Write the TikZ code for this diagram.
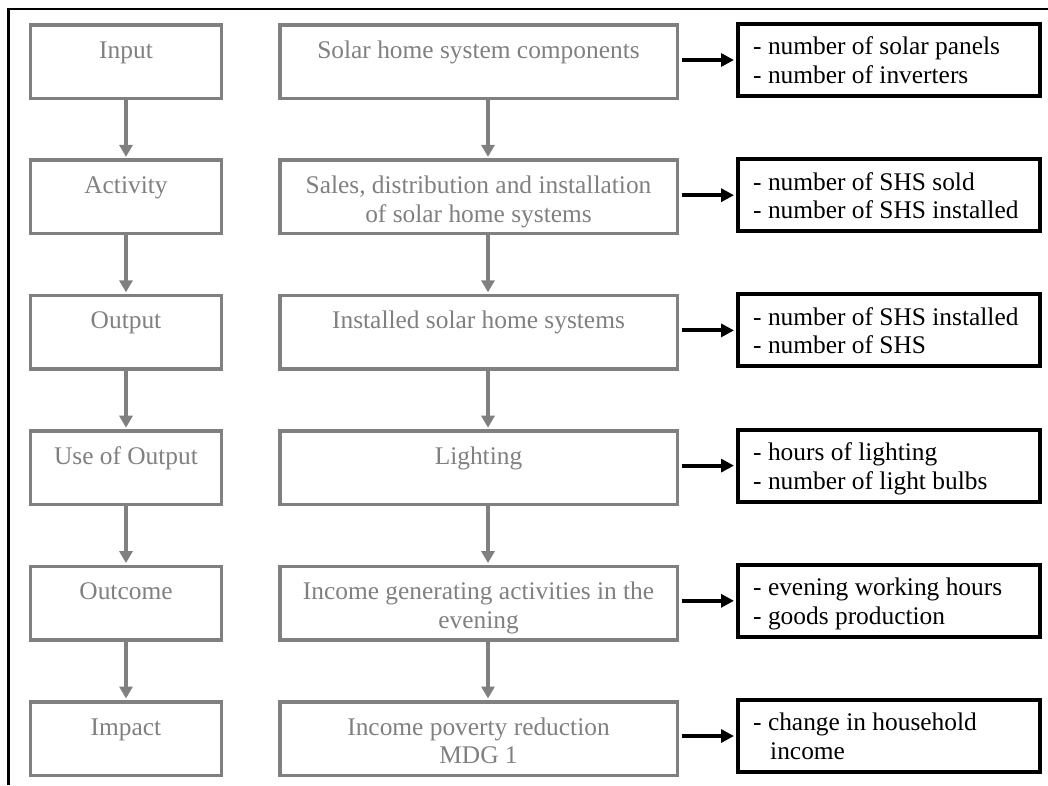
\documentclass[tikz,border=0pt]{standalone}
\usepackage{fontspec}
\setmainfont{Liberation Serif}
\usetikzlibrary{arrows.meta}
\definecolor{boxgray}{RGB}{128,128,128}
\begin{document}
\begin{tikzpicture}[x=1pt,y=-1pt,
  gbox/.style={draw=boxgray,line width=3.5pt,minimum height=73.5pt,inner sep=0pt},
  lbox/.style={gbox,minimum width=191pt},
  mbox/.style={gbox,minimum width=397.5pt},
  gtext/.style={anchor=north,inner sep=0pt,text=boxgray,align=center,font=\fontsize{25.4}{28.5}\selectfont},
  rbox/.style={draw=black,line width=4pt,minimum height=72pt,minimum width=302pt,inner sep=0pt},
  rtext/.style={anchor=west,inner sep=0pt,align=left,font=\fontsize{25.4}{28.5}\selectfont},
  garrow/.style={draw=boxgray,line width=3.5pt,-{Triangle[length=12pt,width=13pt]},shorten >=1.5pt},
  barrow/.style={draw=black,line width=4pt,-{Triangle[length=13pt,width=13pt]},shorten <=2.5pt,shorten >=2pt}
]
\useasboundingbox (0,0) rectangle (1048,785);
\draw[line width=2.5pt] (8.5,785) -- (8.5,9) -- (1048,9);

% left column
\node[lbox] (a1) at (126,61.5) {};
\node[lbox] (a2) at (126,196.9) {};
\node[lbox] (a3) at (126,332.3) {};
\node[lbox] (a4) at (126,467.7) {};
\node[lbox] (a5) at (126,603.1) {};
\node[lbox] (a6) at (126,738.5) {};
\node[gtext] (ta1) at ([yshift=-15pt]a1.north) {\strut Input};
\node[gtext] (ta2) at ([yshift=-15pt]a2.north) {\strut Activity};
\node[gtext] (ta3) at ([yshift=-15pt]a3.north) {\strut Output};
\node[gtext] (ta4) at ([yshift=-15pt]a4.north) {\strut Use of Output};
\node[gtext] (ta5) at ([yshift=-15pt]a5.north) {\strut Outcome};
\node[gtext] (ta6) at ([yshift=-15pt]a6.north) {\strut Impact};

% middle column
\node[mbox] (b1) at (478.5,61.5) {};
\node[mbox] (b2) at (478.5,196.9) {};
\node[mbox] (b3) at (478.5,332.3) {};
\node[mbox] (b4) at (478.5,467.7) {};
\node[mbox] (b5) at (478.5,603.1) {};
\node[mbox] (b6) at (478.5,738.5) {};
\node[gtext] (tb1) at ([yshift=-15pt]b1.north) {\strut Solar home system components};
\node[gtext] (tb2) at ([yshift=-15pt]b2.north) {\strut Sales, distribution and installation\\of solar home systems};
\node[gtext] (tb3) at ([yshift=-15pt]b3.north) {\strut Installed solar home systems};
\node[gtext] (tb4) at ([yshift=-15pt]b4.north) {\strut Lighting};
\node[gtext] (tb5) at ([yshift=-15pt]b5.north) {\strut Income generating activities in the\\evening};
\node[gtext] (tb6) at ([yshift=-15pt]b6.north) {\strut Income poverty reduction\\MDG 1};

% right column
\node[rbox] (r1) at (889,60) {};
\node[rbox] (r2) at (889,195.2) {};
\node[rbox] (r3) at (889,330.4) {};
\node[rbox] (r4) at (889,465.6) {};
\node[rbox] (r5) at (889,600.8) {};
\node[rbox] (r6) at (889,736) {};
\node[rtext] (tr1) at ([xshift=17pt,yshift=-3.5pt]r1.west) {\strut - number of solar panels\\\strut - number of inverters};
\node[rtext] (tr2) at ([xshift=17pt,yshift=-3.5pt]r2.west) {\strut - number of SHS sold\\\strut - number of SHS installed};
\node[rtext] (tr3) at ([xshift=17pt,yshift=-3.5pt]r3.west) {\strut - number of SHS installed\\\strut - number of SHS};
\node[rtext] (tr4) at ([xshift=17pt,yshift=-3.5pt]r4.west) {\strut - hours of lighting\\\strut - number of light bulbs};
\node[rtext] (tr5) at ([xshift=17pt,yshift=-3.5pt]r5.west) {\strut - evening working hours\\\strut - goods production};
\node[rtext] (tr6) at ([xshift=17pt,yshift=-3.5pt]r6.west) {\strut - change in household\\\strut\hspace*{17pt}income};

% vertical arrows
\draw[garrow] (a1.south) -- (a2.north);
\draw[garrow] (a2.south) -- (a3.north);
\draw[garrow] (a3.south) -- (a4.north);
\draw[garrow] (a4.south) -- (a5.north);
\draw[garrow] (a5.south) -- (a6.north);
\draw[garrow] ([xshift=9.5pt]b1.south) -- ([xshift=9.5pt]b2.north);
\draw[garrow] ([xshift=9.5pt]b2.south) -- ([xshift=9.5pt]b3.north);
\draw[garrow] ([xshift=9.5pt]b3.south) -- ([xshift=9.5pt]b4.north);
\draw[garrow] ([xshift=9.5pt]b4.south) -- ([xshift=9.5pt]b5.north);
\draw[garrow] ([xshift=9.5pt]b5.south) -- ([xshift=9.5pt]b6.north);

% horizontal arrows
\draw[barrow] (b1.east |- r1.west) -- (r1.west);
\draw[barrow] (b2.east |- r2.west) -- (r2.west);
\draw[barrow] (b3.east |- r3.west) -- (r3.west);
\draw[barrow] (b4.east |- r4.west) -- (r4.west);
\draw[barrow] (b5.east |- r5.west) -- (r5.west);
\draw[barrow] (b6.east |- r6.west) -- (r6.west);
\end{tikzpicture}
\end{document}
